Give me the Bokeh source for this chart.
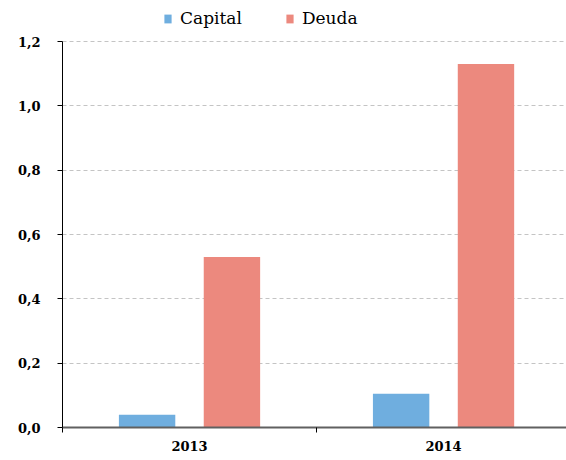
from bokeh.plotting import figure
from bokeh.models import (Range1d, FixedTicker, CustomJSTickFormatter, Legend, LegendItem)
from bokeh.embed import file_html
from bokeh.resources import INLINE

categories = ["2013", "2014"]
capital = [0.04, 0.105]
deuda = [0.53, 1.13]
y_ticks = [0.0, 0.2, 0.4, 0.6, 0.8, 1.0, 1.2]

BLUE = "#6FAEDF"
RED = "#EC897E"
FONT = "DejaVu Serif"

centers = [i + 0.5 for i in range(len(categories))]
off = 0.167
bw = 0.222

p = figure(width=566, height=460, output_backend="svg", toolbar_location=None,
           x_range=Range1d(0, 1.984), y_range=Range1d(0, 1.2 * 427 / 386),
           min_border_left=62, min_border_right=0, min_border_top=0,
           min_border_bottom=33)
p.outline_line_color = None
p.background_fill_color = "white"

r1 = p.vbar(x=[c - off for c in centers], top=capital, width=bw, bottom=0,
            fill_color=BLUE, line_color=None)
r2 = p.vbar(x=[c + off for c in centers], top=deuda, width=bw, bottom=0,
            fill_color=RED, line_color=None)

# x axis
xa = p.xaxis[0]
xa.ticker = FixedTicker(ticks=centers, minor_ticks=[0.0, 1.0, 2.0])
xa.major_label_overrides = {c: lab for c, lab in zip(centers, categories)}
xa.major_tick_out = 0
xa.major_tick_in = 0
xa.minor_tick_out = 5
xa.minor_tick_in = 0
xa.minor_tick_line_color = "black"
xa.axis_line_color = "#606060"
xa.axis_line_width = 2
xa.major_label_text_font = FONT
xa.major_label_text_font_size = "13px"
xa.major_label_text_font_style = "bold"
xa.major_label_text_color = "black"
xa.major_label_standoff = 8

# y axis
ya = p.yaxis[0]
ya.ticker = FixedTicker(ticks=y_ticks, minor_ticks=[])
ya.formatter = CustomJSTickFormatter(code="return tick.toFixed(1).replace('.', ',');")
ya.bounds = (0, 1.2)
ya.major_tick_out = 5
ya.major_tick_in = 0
ya.axis_line_color = "black"
ya.major_tick_line_color = "black"
ya.major_label_text_font = FONT
ya.major_label_text_font_size = "13px"
ya.major_label_text_font_style = "bold"
ya.major_label_text_color = "black"
ya.major_label_standoff = 17

p.xgrid.visible = False
p.ygrid.ticker = FixedTicker(ticks=y_ticks[1:])
p.ygrid.grid_line_color = "#C4C4C4"
p.ygrid.grid_line_dash = "4 3"
p.ygrid.grid_line_width = 1

legend = Legend(items=[LegendItem(label="Capital", renderers=[r1]),
                       LegendItem(label="Deuda", renderers=[r2])],
                location=(101, 399), orientation="horizontal",
                glyph_width=9, glyph_height=11, label_standoff=8, spacing=43,
                padding=0, margin=0, border_line_color=None,
                background_fill_alpha=0,
                label_text_font=FONT, label_text_font_size="17px",
                label_text_color="black", label_height=20)
p.add_layout(legend, "center")

open("out.html", "w").write(file_html(p, INLINE))
